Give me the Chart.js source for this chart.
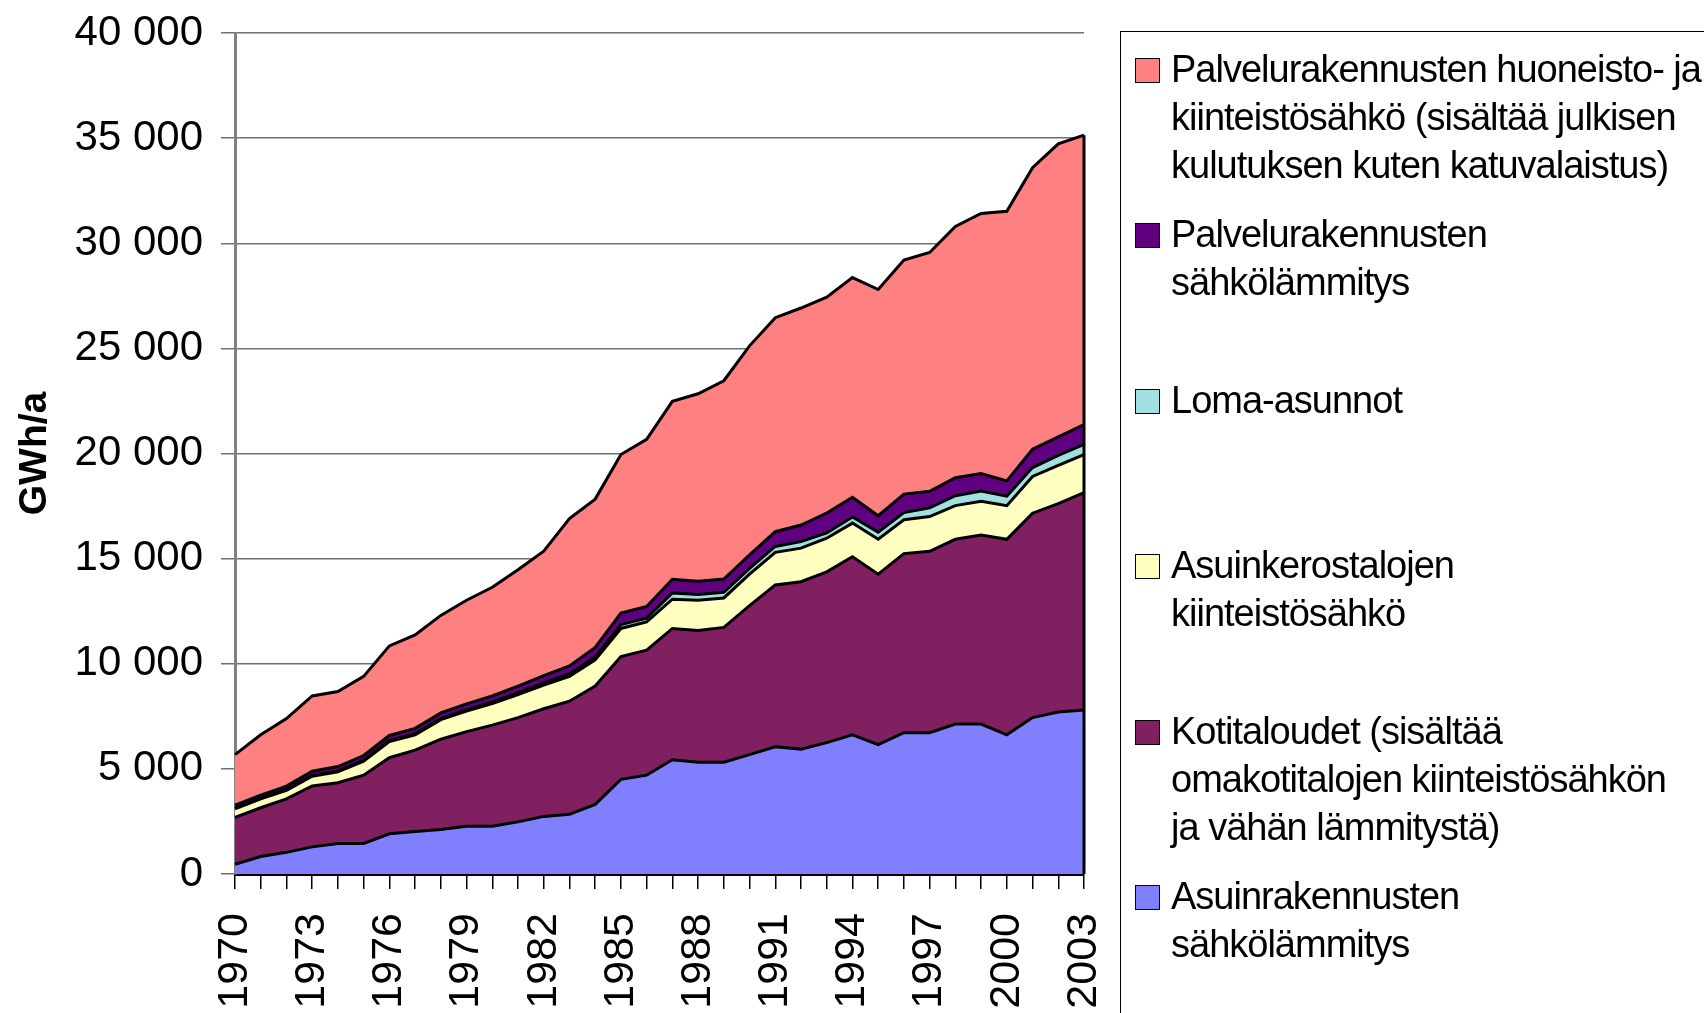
<!DOCTYPE html>
<html>
<head>
<meta charset="utf-8">
<script src="https://cdn.jsdelivr.net/npm/chart.js@4.4.1/dist/chart.umd.min.js"></script>
<style>
  html, body { margin: 0; padding: 0; background: #fff; overflow: hidden; }
  #wrap { position: relative; width: 1704px; height: 1013px; }
  #legend {
    position: absolute; left: 1120px; top: 31px; width: 700px; height: 1100px;
    border: 1.5px solid #000; box-sizing: border-box;
    font-family: 'Liberation Sans', Arial, sans-serif;
  }
  .item { position: absolute; left: 14px; }
  .box { position: absolute; left: 0; width: 23px; height: 23px; border: 1.5px solid #000; }
  .txt { position: absolute; left: 36px; top: -13px; white-space: nowrap;
         font-size: 38px; line-height: 48px; letter-spacing: -1px; color: #000; }
</style>
</head>
<body>
<div id="wrap">
  <canvas id="myChart" width="1704" height="1013"></canvas>
  <div id="legend"></div>
</div>
<script>
const ctx = document.getElementById('myChart')

const vuodet = ['1970', '1971', '1972', '1973', '1974', '1975', '1976', '1977', '1978', '1979',
  '1980', '1981', '1982', '1983', '1984', '1985', '1986', '1987', '1988', '1989',
  '1990', '1991', '1992', '1993', '1994', '1995', '1996', '1997', '1998', '1999',
  '2000', '2001', '2002', '2003']

// GWh/a, luettu kuvasta (alhaalta ylos pinottuna)
const asuinLammitys = [465, 830, 1030, 1290, 1450, 1450, 1910, 2020, 2120, 2270,
  2270, 2480, 2740, 2840, 3310, 4500, 4700, 5430, 5320, 5320,
  5680, 6050, 5940, 6250, 6620, 6150, 6720, 6720, 7130, 7130,
  6620, 7440, 7700, 7800]
const kotitaloudet = [2225, 2320, 2540, 2900, 2890, 3250, 3620, 3870, 4290, 4500,
  4810, 4960, 5120, 5380, 5630, 5840, 5950, 6250, 6260, 6410,
  7080, 7700, 7960, 8120, 8470, 8110, 8520, 8630, 8790, 8990,
  9300, 9720, 9920, 10340]
const kerostalot = [410, 420, 410, 460, 520, 670, 770, 730, 930, 980,
  1030, 1090, 1130, 1180, 1240, 1340, 1340, 1390, 1440, 1400,
  1500, 1550, 1600, 1600, 1600, 1660, 1610, 1650, 1600, 1610,
  1600, 1750, 1810, 1810]
const lomaAsunnot = [20, 25, 30, 35, 40, 45, 50, 55, 60, 70,
  80, 90, 110, 130, 150, 180, 180, 300, 270, 270,
  280, 280, 310, 250, 290, 340, 340, 420, 470, 480,
  450, 420, 480, 480]
const palveluLammitys = [150, 160, 170, 200, 210, 220, 240, 250, 260, 270,
  280, 320, 340, 370, 450, 550, 555, 650, 630, 630,
  640, 700, 790, 950, 940, 780, 880, 780, 860, 840,
  730, 880, 880, 950]
const palveluHuoneisto = [2410, 2865, 3210, 3585, 3570, 3765, 4260, 4445, 4640, 4930,
  5170, 5530, 5910, 7000, 7050, 7540, 7945, 8460, 8920, 9430,
  9940, 10180, 10320, 10270, 10450, 10760, 11130, 11360, 11950, 12370,
  12820, 13380, 13940, 13760]

const nimet = [
  ['Asuinrakennusten', 'sähkölämmitys'],
  ['Kotitaloudet (sisältää', 'omakotitalojen kiinteistösähkön', 'ja vähän lämmitystä)'],
  ['Asuinkerostalojen', 'kiinteistösähkö'],
  ['Loma-asunnot'],
  ['Palvelurakennusten', 'sähkölämmitys'],
  ['Palvelurakennusten huoneisto- ja', 'kiinteistösähkö (sisältää julkisen', 'kulutuksen kuten katuvalaistus)']
]
const sarjat = [asuinLammitys, kotitaloudet, kerostalot, lomaAsunnot, palveluLammitys, palveluHuoneisto]
const varit = ['#8080ff', '#802060', '#ffffc0', '#a0e0e0', '#600080', '#ff8080']

const fontti = "'Liberation Sans', Arial, sans-serif"

// pinon oikea pystyreuna (Excel piirtää alueen reunat)
const reunat = {
  id: 'reunat',
  afterDatasetsDraw(chart) {
    const c = chart.ctx
    const x = chart.scales.x
    const y = chart.scales.y
    const viimeinen = vuodet.length - 1
    let summa = 0
    sarjat.forEach(s => { summa += s[viimeinen] })
    c.save()
    c.strokeStyle = '#000'
    c.lineWidth = 3
    c.beginPath()
    c.moveTo(x.getPixelForValue(viimeinen), y.getPixelForValue(summa))
    c.lineTo(x.getPixelForValue(viimeinen), y.getPixelForValue(0))
    c.stroke()
    c.restore()
  }
}

new Chart(ctx, {
  type: 'line',
  data: {
    labels: vuodet,
    datasets: sarjat.map((s, i) => ({
      label: nimet[i].join(' '),
      data: s,
      fill: i === 0 ? 'origin' : '-1',
      backgroundColor: varit[i],
      borderColor: '#000',
      borderWidth: 3,
      pointRadius: 0,
      tension: 0,
    })),
  },
  options: {
    responsive: false,
    animation: false,
    devicePixelRatio: 1,
    layout: { padding: { left: 0, top: 33, right: 620, bottom: 0 } },
    plugins: { legend: { display: false }, tooltip: { enabled: false } },
    scales: {
      x: {
        grid: { drawOnChartArea: false, color: '#000', tickLength: 15, lineWidth: 1.5 },
        border: { color: '#000', width: 3 },
        ticks: {
          autoSkip: false, maxRotation: 90, minRotation: 90, padding: 24,
          color: '#000', font: { family: fontti, size: 43 },
          callback: (v, i) => (i % 3 === 0 ? vuodet[i] : ''),
        },
        afterFit: (s) => { s.height = 139 },
      },
      y: {
        stacked: true,
        min: 0,
        max: 40000,
        grid: { color: '#707070', lineWidth: 1.5, tickLength: 14 },
        border: { color: '#808080', width: 3 },
        ticks: {
          stepSize: 5000, padding: 18, color: '#000',
          font: { family: fontti, size: 42, lineHeight: 0.6 },
          callback: (v) => v.toString().replace(/\B(?=(\d{3})+(?!\d))/g, ' '),
        },
        title: {
          display: true, text: 'GWh/a', color: '#000', padding: { top: 12, bottom: 0 },
          font: { family: fontti, size: 39, weight: 'bold' },
        },
        afterFit: (s) => { s.width = 235 },
      },
    },
  },
  plugins: [reunat],
})

// selite, ylin sarja ensin
const selite = document.getElementById('legend')
for (let i = sarjat.length - 1; i >= 0; i--) {
  const k = sarjat.length - 1 - i
  const item = document.createElement('div')
  item.className = 'item'
  item.style.top = (26 + k * 165.4) + 'px'
  const box = document.createElement('div')
  box.className = 'box'
  box.style.background = varit[i]
  const txt = document.createElement('div')
  txt.className = 'txt'
  txt.innerHTML = nimet[i].join('<br>')
  item.appendChild(box)
  item.appendChild(txt)
  selite.appendChild(item)
}
</script>
</body>
</html>
